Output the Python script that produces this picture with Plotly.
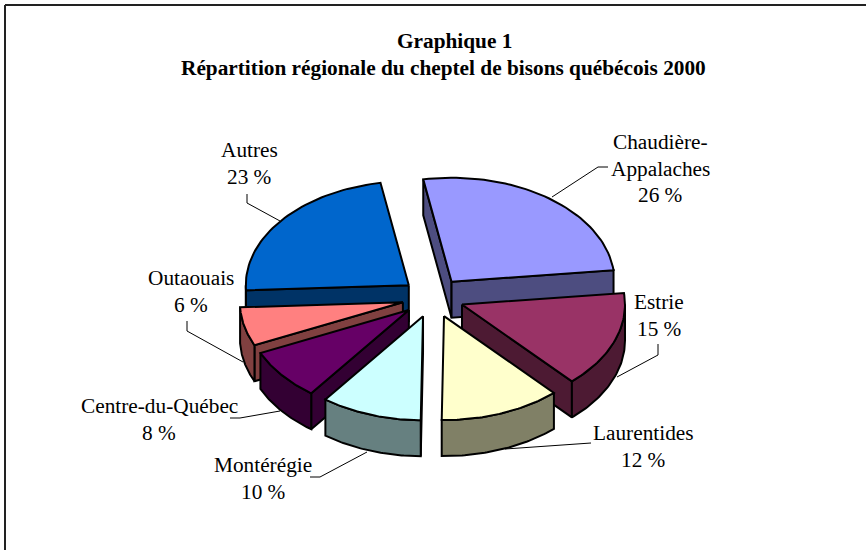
import math
import plotly.graph_objects as go

regions = ["Chaudière-Appalaches", "Estrie", "Laurentides", "Montérégie",
           "Centre-du-Québec", "Outaouais", "Autres"]
shares = [26, 15, 12, 10, 8, 6, 23]
top_colors = ["#9999FF", "#993366", "#FFFFCC", "#CCFFFF", "#660066", "#FF8080", "#0066CC"]
side_colors = ["#4D4D80", "#4D1A33", "#808066", "#668080", "#330033", "#804040", "#003366"]
label_lines = [["Chaudière-", "Appalaches", "26 %"], ["Estrie", "15 %"], ["Laurentides", "12 %"],
               ["Montérégie", "10 %"], ["Centre-du-Québec", "8 %"], ["Outaouais", "6 %"],
               ["Autres", "23 %"]]
label_pos = [(660, 142), (659, 302), (643, 433), (263, 465), (159, 406), (191, 278), (249, 150)]
leaders = [[(608, 167), (598, 167), (552, 197)],
           [(658, 344), (658, 355), (617, 377)],
           [(591, 443), (505, 449)],
           [(310, 477), (320, 477), (367, 452)],
           [(230, 418), (240, 418), (280, 411)],
           [(187, 321), (187, 331), (243, 362)],
           [(247, 194), (247, 203), (280, 221)]]
title_lines = ["Graphique 1", "Répartition régionale du cheptel de bisons québécois 2000"]

CX, CY, RX, RY, DEPTH = 433, 297.6, 163, 104, 36
EXPLODE = 0.19
START_DEG = -10
LINE_SPACING = 26.5
FONT = "Liberation Serif"
FS = 21.3
draw_order = [6, 0, 5, 1, 4, 2, 3]

def pt(ox, oy, deg, dz=0):
    a = math.radians(deg)
    return ox + RX * math.sin(a), oy - RY * math.cos(a) + dz

def arc(ox, oy, a, b, dz=0, n=48):
    return [pt(ox, oy, a + (b - a) * i / n, dz) for i in range(n + 1)]

def poly(fig, pts, fill, name):
    xs = [p[0] for p in pts] + [pts[0][0]]
    ys = [p[1] for p in pts] + [pts[0][1]]
    fig.add_trace(go.Scatter(x=xs, y=ys, mode="lines", fill="toself", fillcolor=fill,
                             line=dict(color="black", width=2), name=name,
                             hoverinfo="name", showlegend=False))

fig = go.Figure()
total = sum(shares)
edges = [START_DEG]
for s in shares:
    edges.append(edges[-1] + 360 * s / total)

for i in draw_order:
    a, b = edges[i], edges[i + 1]
    mid = math.radians((a + b) / 2)
    ox = CX + EXPLODE * RX * math.sin(mid)
    oy = CY - EXPLODE * RY * math.cos(mid)
    name = regions[i]
    if math.cos(math.radians(a - 90)) < 0:
        e = pt(ox, oy, a)
        poly(fig, [(ox, oy), e, (e[0], e[1] + DEPTH), (ox, oy + DEPTH)], side_colors[i], name)
    if math.cos(math.radians(b + 90)) < 0:
        e = pt(ox, oy, b)
        poly(fig, [(ox, oy), e, (e[0], e[1] + DEPTH), (ox, oy + DEPTH)], side_colors[i], name)
    lo, hi = max(a, 90), min(b, 270)
    if hi > lo:
        poly(fig, arc(ox, oy, lo, hi) + arc(ox, oy, hi, lo, DEPTH), side_colors[i], name)
    poly(fig, [(ox, oy)] + arc(ox, oy, a, b), top_colors[i], name)

for path in leaders:
    fig.add_trace(go.Scatter(x=[p[0] for p in path], y=[p[1] for p in path], mode="lines",
                             line=dict(color="black", width=1), hoverinfo="skip", showlegend=False))

annotations = []
def add_text(x, y, text, bold=False, size=FS):
    annotations.append(dict(x=x, y=y, xref="x", yref="y", text=f"<b>{text}</b>" if bold else text,
                            showarrow=False, xanchor="center", yanchor="middle",
                            font=dict(family=FONT, size=size, color="black")))

for (x, y), lines in zip(label_pos, label_lines):
    for k, line in enumerate(lines):
        add_text(x, y + k * LINE_SPACING, line)
add_text(454, 41, title_lines[0], bold=True)
add_text(443, 68, title_lines[1], bold=True)

fig.update_layout(
    width=866, height=550, margin=dict(l=0, r=0, t=0, b=0), autosize=False,
    paper_bgcolor="white", plot_bgcolor="white", showlegend=False, annotations=annotations,
    xaxis=dict(range=[0, 866], visible=False, fixedrange=True),
    yaxis=dict(range=[550, 0], visible=False, fixedrange=True),
    shapes=[dict(type="line", xref="x", yref="y", x0=5, y0=5, x1=866, y1=5,
                 line=dict(color="#222222", width=2)),
            dict(type="line", xref="x", yref="y", x0=5, y0=5, x1=5, y1=550,
                 line=dict(color="#222222", width=2))],
)
fig.write_html("out.html", config=dict(displayModeBar=False),
               post_script="document.body.style.margin='0';document.documentElement.style.overflow='hidden';")
